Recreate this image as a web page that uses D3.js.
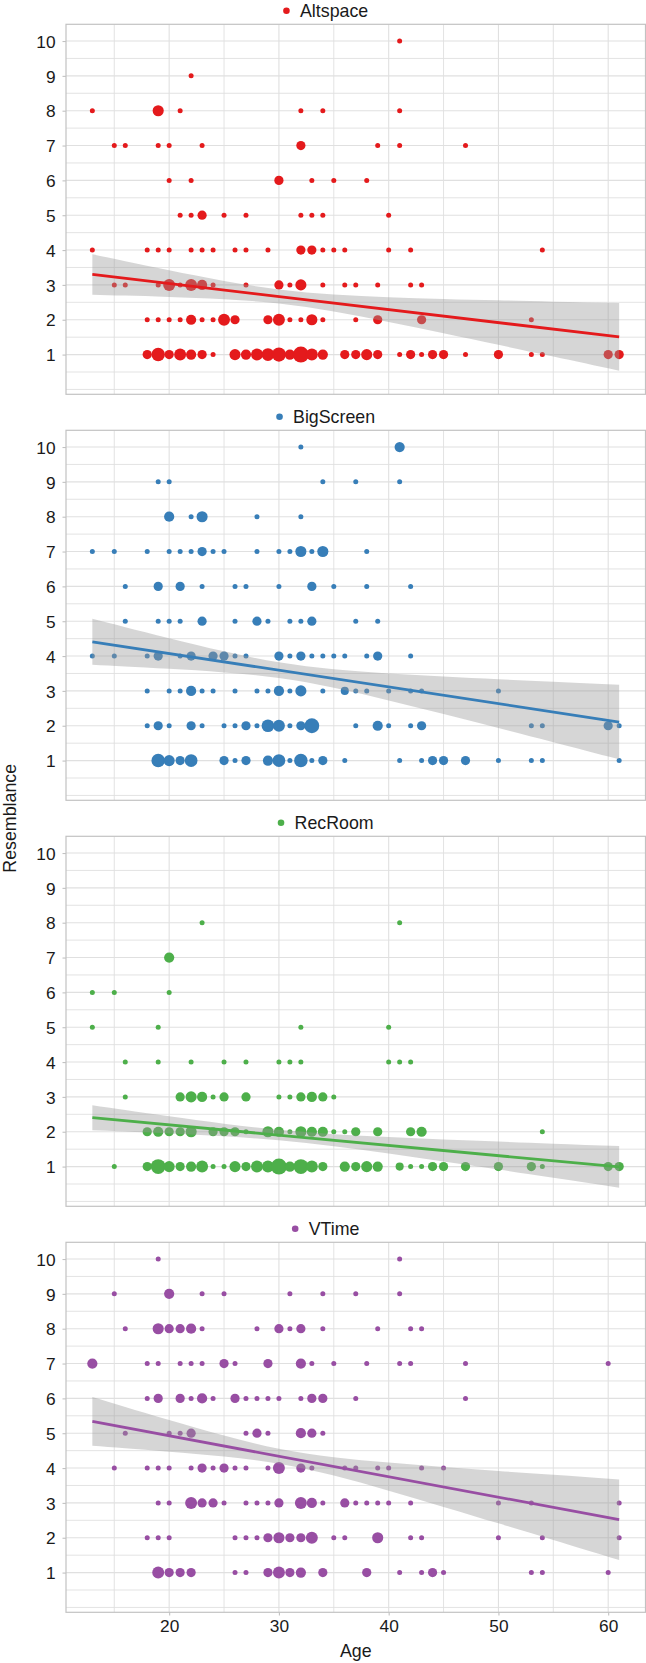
<!DOCTYPE html>
<html><head><meta charset="utf-8">
<script src="https://cdn.jsdelivr.net/npm/d3@7"></script>
<style>
body{margin:0;background:#fff}
svg{display:block}
text{font-family:"Liberation Sans",Arial,Helvetica,sans-serif;fill:#1a1a1a}
</style>
</head><body>
<svg id="chart" width="646" height="1663"></svg>
<script>
// ---------------- DATA ----------------
const platforms = ["Altspace", "BigScreen", "RecRoom", "VTime"];
const platformColors = ["#E41A1C", "#377EB8", "#4DAF4A", "#984EA3"];

const xTicks = [20, 30, 40, 50, 60];
const xMinorBreaks = [15, 25, 35, 45, 55];
const yTicks = [1, 2, 3, 4, 5, 6, 7, 8, 9, 10];
const yMinorBreaks = [0, 0.5, 1.5, 2.5, 3.5, 4.5, 5.5, 6.5, 7.5, 8.5, 9.5];

const xLabel = "Age";
const yLabel = "Resemblance";

// points: [age, resemblance, number of respondents]
const altspacePoints = [
  [41,10,1],
  [22,9,1],
  [13,8,1],[19,8,6],[21,8,1],[32,8,1],[34,8,1],[41,8,1],
  [15,7,1],[16,7,1],[19,7,1],[20,7,1],[23,7,1],[32,7,4],[39,7,1],[41,7,1],[47,7,1],
  [20,6,1],[22,6,1],[30,6,4],[33,6,1],[35,6,1],[38,6,1],
  [21,5,1],[22,5,1],[23,5,4],[25,5,1],[27,5,1],[32,5,1],[33,5,1],[34,5,1],[40,5,1],
  [13,4,1],[18,4,1],[19,4,1],[20,4,1],[22,4,1],[23,4,1],[24,4,1],[26,4,1],[27,4,1],[29,4,1],
  [32,4,4],[33,4,4],[34,4,1],[35,4,1],[36,4,1],[40,4,1],[42,4,1],[54,4,1],
  [15,3,1],[16,3,1],[19,3,1],[20,3,7],[21,3,1],[22,3,7],[23,3,5],[24,3,1],[27,3,1],[30,3,4],
  [31,3,1],[32,3,6],[34,3,1],[36,3,1],[37,3,1],[39,3,1],[42,3,1],[43,3,1],
  [18,2,1],[19,2,1],[20,2,1],[21,2,1],[22,2,5],[23,2,1],[24,2,1],[25,2,7],[26,2,4],[29,2,4],
  [30,2,7],[31,2,1],[32,2,1],[33,2,6],[34,2,1],[37,2,1],[39,2,4],[43,2,4],[53,2,1],
  [18,1,4],[19,1,9],[20,1,4],[21,1,7],[22,1,5],[23,1,4],[24,1,1],[26,1,6],[27,1,5],[28,1,7],
  [29,1,8],[30,1,10],[31,1,5],[32,1,13],[33,1,7],[34,1,5],[36,1,4],[37,1,4],[38,1,6],[39,1,4],
  [41,1,1],[42,1,4],[43,1,1],[44,1,4],[45,1,4],[47,1,1],[50,1,4],[53,1,1],[54,1,1],[60,1,4],[61,1,4]
];
const bigscreenPoints = [
  [32,10,1],[41,10,5],
  [19,9,1],[20,9,1],[34,9,1],[37,9,1],[41,9,1],
  [20,8,5],[22,8,1],[23,8,6],[28,8,1],[32,8,1],
  [13,7,1],[15,7,1],[18,7,1],[20,7,1],[21,7,1],[22,7,1],[23,7,4],[24,7,1],[25,7,1],[28,7,1],
  [30,7,1],[31,7,1],[32,7,6],[33,7,1],[34,7,6],[38,7,1],
  [16,6,1],[19,6,4],[21,6,4],[23,6,1],[26,6,1],[27,6,1],[30,6,1],[33,6,4],[35,6,1],[38,6,1],[42,6,1],
  [16,5,1],[19,5,1],[20,5,1],[21,5,1],[23,5,4],[26,5,1],[28,5,4],[29,5,1],[31,5,1],[32,5,1],
  [33,5,4],[37,5,1],[39,5,1],
  [13,4,1],[15,4,1],[18,4,1],[19,4,4],[21,4,1],[22,4,4],[24,4,4],[25,4,4],[26,4,1],[27,4,1],
  [30,4,4],[31,4,1],[32,4,4],[33,4,1],[34,4,1],[35,4,1],[36,4,1],[38,4,1],[39,4,4],[42,4,1],
  [18,3,1],[20,3,1],[21,3,1],[22,3,5],[23,3,1],[24,3,1],[26,3,1],[28,3,1],[29,3,1],[30,3,5],
  [31,3,1],[32,3,6],[34,3,1],[36,3,3],[37,3,1],[38,3,1],[40,3,1],[42,3,1],[43,3,1],[50,3,1],
  [18,2,1],[19,2,4],[20,2,1],[22,2,4],[23,2,1],[25,2,1],[26,2,1],[27,2,4],[28,2,1],[29,2,8],
  [30,2,7],[31,2,1],[32,2,4],[33,2,11],[37,2,1],[39,2,5],[40,2,1],[42,2,1],[43,2,4],[53,2,1],
  [54,2,1],[60,2,4],[61,2,1],
  [19,1,9],[20,1,6],[21,1,4],[22,1,8],[25,1,4],[26,1,1],[27,1,4],[29,1,5],[30,1,8],[31,1,1],
  [32,1,9],[33,1,1],[34,1,4],[36,1,1],[41,1,1],[43,1,1],[44,1,4],[45,1,4],[47,1,4],[50,1,1],
  [53,1,1],[54,1,1],[61,1,1]
];
const recroomPoints = [
  [23,8,1],[41,8,1],
  [20,7,5],
  [13,6,1],[15,6,1],[20,6,1],
  [13,5,1],[19,5,1],[32,5,1],[40,5,1],
  [16,4,1],[19,4,1],[22,4,1],[25,4,1],[27,4,1],[30,4,1],[31,4,1],[32,4,1],[40,4,1],[41,4,1],[42,4,1],
  [16,3,1],[21,3,4],[22,3,6],[23,3,5],[24,3,1],[25,3,4],[27,3,4],[30,3,1],[31,3,1],[32,3,4],
  [33,3,5],[34,3,4],[35,3,1],
  [18,2,4],[19,2,5],[20,2,4],[21,2,4],[22,2,6],[24,2,4],[25,2,4],[26,2,4],[27,2,1],[29,2,6],
  [30,2,5],[31,2,1],[32,2,6],[33,2,5],[34,2,5],[35,2,1],[36,2,1],[37,2,4],[39,2,4],[42,2,4],
  [43,2,5],[54,2,1],
  [15,1,1],[18,1,4],[19,1,11],[20,1,6],[21,1,4],[22,1,5],[23,1,7],[24,1,1],[25,1,1],[26,1,6],
  [27,1,4],[28,1,7],[29,1,7],[30,1,13],[31,1,5],[32,1,11],[33,1,7],[34,1,4],[36,1,5],[37,1,4],
  [38,1,6],[39,1,5],[41,1,3],[42,1,1],[43,1,1],[44,1,4],[45,1,4],[47,1,4],[50,1,4],[53,1,4],
  [54,1,1],[60,1,4],[61,1,4]
];
const vtimePoints = [
  [19,10,1],[41,10,1],
  [15,9,1],[20,9,5],[23,9,1],[25,9,1],[31,9,1],[34,9,1],[37,9,1],[41,9,1],
  [16,8,1],[19,8,6],[20,8,4],[21,8,4],[22,8,5],[23,8,1],[28,8,1],[30,8,4],[31,8,1],[32,8,4],
  [34,8,1],[39,8,1],[42,8,1],[43,8,1],
  [13,7,5],[18,7,1],[19,7,1],[21,7,1],[22,7,1],[23,7,1],[25,7,4],[26,7,1],[29,7,4],[32,7,5],
  [33,7,1],[35,7,1],[38,7,1],[41,7,1],[42,7,1],[47,7,1],[60,7,1],
  [18,6,1],[19,6,4],[21,6,4],[22,6,1],[23,6,5],[24,6,1],[26,6,4],[27,6,1],[28,6,1],[29,6,1],
  [30,6,1],[32,6,1],[33,6,4],[34,6,4],[37,6,1],[47,6,1],
  [16,5,1],[20,5,1],[21,5,1],[22,5,4],[27,5,1],[28,5,4],[29,5,1],[32,5,5],[33,5,4],[34,5,1],
  [15,4,1],[18,4,1],[19,4,1],[20,4,1],[22,4,1],[23,4,4],[24,4,1],[25,4,4],[26,4,1],[27,4,1],
  [29,4,1],[30,4,7],[32,4,4],[33,4,1],[36,4,1],[37,4,1],[39,4,1],[40,4,1],[43,4,1],[45,4,1],
  [19,3,1],[20,3,1],[22,3,7],[23,3,4],[24,3,4],[25,3,1],[27,3,1],[28,3,1],[29,3,1],[30,3,4],
  [32,3,7],[33,3,5],[34,3,1],[36,3,4],[37,3,1],[38,3,1],[39,3,1],[40,3,1],[42,3,1],[50,3,1],
  [53,3,1],[61,3,1],
  [18,2,1],[19,2,1],[20,2,1],[26,2,1],[27,2,1],[28,2,1],[29,2,4],[30,2,6],[31,2,4],[32,2,4],
  [33,2,7],[35,2,1],[36,2,1],[39,2,6],[42,2,1],[43,2,1],[50,2,1],[54,2,1],[61,2,1],
  [19,1,7],[20,1,4],[21,1,4],[22,1,4],[26,1,1],[27,1,1],[29,1,4],[30,1,7],[31,1,4],[32,1,5],
  [34,1,4],[38,1,4],[41,1,1],[43,1,1],[44,1,4],[45,1,1],[53,1,1],[54,1,1],[60,1,1]
];

// linear fit (value at the youngest and oldest age)
const fitAges = [13, 61];
const altspaceFit = [3.30, 1.507];
const bigscreenFit = [4.41, 2.106];
const recroomFit = [2.404, 0.990];
const vtimeFit = [5.337, 2.519];

// confidence band read at these ages
const bandAges = [13, 16, 20, 25, 30, 35, 40, 45, 50, 55, 61];
const altspaceLower  = [2.720, 2.694, 2.656, 2.589, 2.464, 2.234, 1.934, 1.611, 1.279, 0.943, 0.537];
const altspaceUpper  = [3.880, 3.681, 3.422, 3.115, 2.866, 2.722, 2.648, 2.598, 2.557, 2.519, 2.477];
const bigscreenLower = [3.750, 3.702, 3.634, 3.531, 3.368, 3.089, 2.727, 2.336, 1.934, 1.528, 1.037];
const bigscreenUpper = [5.070, 4.830, 4.514, 4.137, 3.820, 3.619, 3.501, 3.412, 3.334, 3.260, 3.175];
const recroomLower   = [2.044, 2.007, 1.952, 1.871, 1.754, 1.583, 1.372, 1.145, 0.913, 0.676, 0.391];
const recroomUpper   = [2.764, 2.625, 2.444, 2.231, 2.054, 1.931, 1.846, 1.777, 1.717, 1.658, 1.591];
const vtimeLower     = [4.637, 4.568, 4.470, 4.331, 4.127, 3.783, 3.347, 2.885, 2.413, 1.938, 1.364];
const vtimeUpper     = [6.037, 5.754, 5.382, 4.935, 4.551, 4.309, 4.157, 4.033, 3.917, 3.806, 3.674];

const allPoints = [altspacePoints, bigscreenPoints, recroomPoints, vtimePoints];
const allFits = [altspaceFit, bigscreenFit, recroomFit, vtimeFit];
const allLower = [altspaceLower, bigscreenLower, recroomLower, vtimeLower];
const allUpper = [altspaceUpper, bigscreenUpper, recroomUpper, vtimeUpper];

// ---------------- LAYOUT ----------------
const svg = d3.select("#chart");
const plotLeft = 66, plotRight = 645.5;
const firstTop = 24.3, panelStep = 406, panelH = 370;
const tickFont = 17.3, labelFont = 17.8;

const x = d3.scaleLinear().domain([10.6, 63.4]).range([plotLeft, plotRight]);
const r = d3.scaleSqrt().domain([1, 13]).range([2.5, 8]);

platforms.forEach((name, i) => {
  const top = firstTop + panelStep * i;
  const bottom = top + panelH;
  const y = d3.scaleLinear().domain([-0.14, 10.48]).range([bottom, top]);
  const color = platformColors[i];
  const g = svg.append("g");

  const clipId = "clip" + i;
  svg.append("clipPath").attr("id", clipId)
    .append("rect").attr("x", plotLeft).attr("y", top)
    .attr("width", plotRight - plotLeft).attr("height", panelH);

  // grid
  const grid = g.append("g").attr("stroke", "#e0e0e0").attr("stroke-width", 1.1);
  grid.selectAll(".ymin").data(yMinorBreaks).join("line")
    .attr("x1", plotLeft).attr("x2", plotRight)
    .attr("y1", d => y(d)).attr("y2", d => y(d)).attr("stroke-width", 0.9);
  grid.selectAll(".xmin").data(xMinorBreaks).join("line")
    .attr("y1", top).attr("y2", bottom)
    .attr("x1", d => x(d)).attr("x2", d => x(d)).attr("stroke-width", 0.9);
  grid.selectAll(".ymaj").data(yTicks).join("line")
    .attr("x1", plotLeft).attr("x2", plotRight)
    .attr("y1", d => y(d)).attr("y2", d => y(d));
  grid.selectAll(".xmaj").data(xTicks).join("line")
    .attr("y1", top).attr("y2", bottom)
    .attr("x1", d => x(d)).attr("x2", d => x(d));

  const inner = g.append("g").attr("clip-path", `url(#${clipId})`);

  // points
  inner.append("g").selectAll("circle").data(allPoints[i]).join("circle")
    .attr("cx", d => x(d[0])).attr("cy", d => y(d[1])).attr("r", d => r(d[2]))
    .attr("fill", color);

  // confidence band
  const bandData = bandAges.map((a, k) => ({a, lo: allLower[i][k], hi: allUpper[i][k]}));
  inner.append("path").datum(bandData)
    .attr("d", d3.area().curve(d3.curveNatural)
      .x(d => x(d.a)).y0(d => y(d.lo)).y1(d => y(d.hi)))
    .attr("fill", "#999999").attr("fill-opacity", 0.4);

  // fit line
  const fitData = fitAges.map((a, k) => [a, allFits[i][k]]);
  inner.append("path").datum(fitData)
    .attr("d", d3.line().x(d => x(d[0])).y(d => y(d[1])))
    .attr("stroke", color).attr("stroke-width", 2.8).attr("fill", "none");

  // frame
  g.append("rect").attr("x", plotLeft).attr("y", top)
    .attr("width", plotRight - plotLeft).attr("height", panelH)
    .attr("fill", "none").attr("stroke", "#c2c2c2").attr("stroke-width", 1.2);

  // y axis
  const ya = g.append("g").attr("transform", `translate(${plotLeft},0)`)
    .call(d3.axisLeft(y).tickValues(yTicks).tickSize(3.5).tickPadding(7).tickFormat(d3.format("d")));
  ya.select(".domain").remove();
  ya.selectAll(".tick line").attr("stroke", "#c2c2c2").attr("stroke-width", 1.1);
  ya.selectAll(".tick text").attr("font-size", tickFont).attr("dy", "0.36em")
    .attr("fill", "#1a1a1a").attr("font-family", null);

  // x axis (bottom panel only)
  if (i === platforms.length - 1) {
    const xa = g.append("g").attr("transform", `translate(0,${bottom})`)
      .call(d3.axisBottom(x).tickValues(xTicks).tickSize(3.2).tickPadding(4.5).tickFormat(d3.format("d")));
    xa.select(".domain").remove();
    xa.selectAll(".tick line").attr("stroke", "#c2c2c2").attr("stroke-width", 1.1);
    xa.selectAll(".tick text").attr("font-size", tickFont).attr("fill", "#1a1a1a").attr("font-family", null);
  }

  // panel title (legend key style)
  const tg = svg.append("g");
  const tt = tg.append("text").attr("font-size", labelFont).text(name)
    .attr("y", top - 7.4);
  const tw = tt.node().getComputedTextLength();
  const keyW = 17.3, gap = 4.9;
  const start = 323 - (keyW + gap + tw) / 2;
  tt.attr("x", start + keyW + gap);
  tg.append("circle").attr("cx", start + keyW / 2).attr("cy", top - 13.6)
    .attr("r", 3.3).attr("fill", color);
});

// axis titles
svg.append("text").attr("x", (plotLeft + plotRight) / 2).attr("y", 1657)
  .attr("text-anchor", "middle").attr("font-size", labelFont).text(xLabel);
svg.append("text").attr("transform", `translate(15.5,${(firstTop + firstTop + panelStep * 3 + panelH) / 2}) rotate(-90)`)
  .attr("text-anchor", "middle").attr("font-size", labelFont).text(yLabel);
</script>
</body></html>
